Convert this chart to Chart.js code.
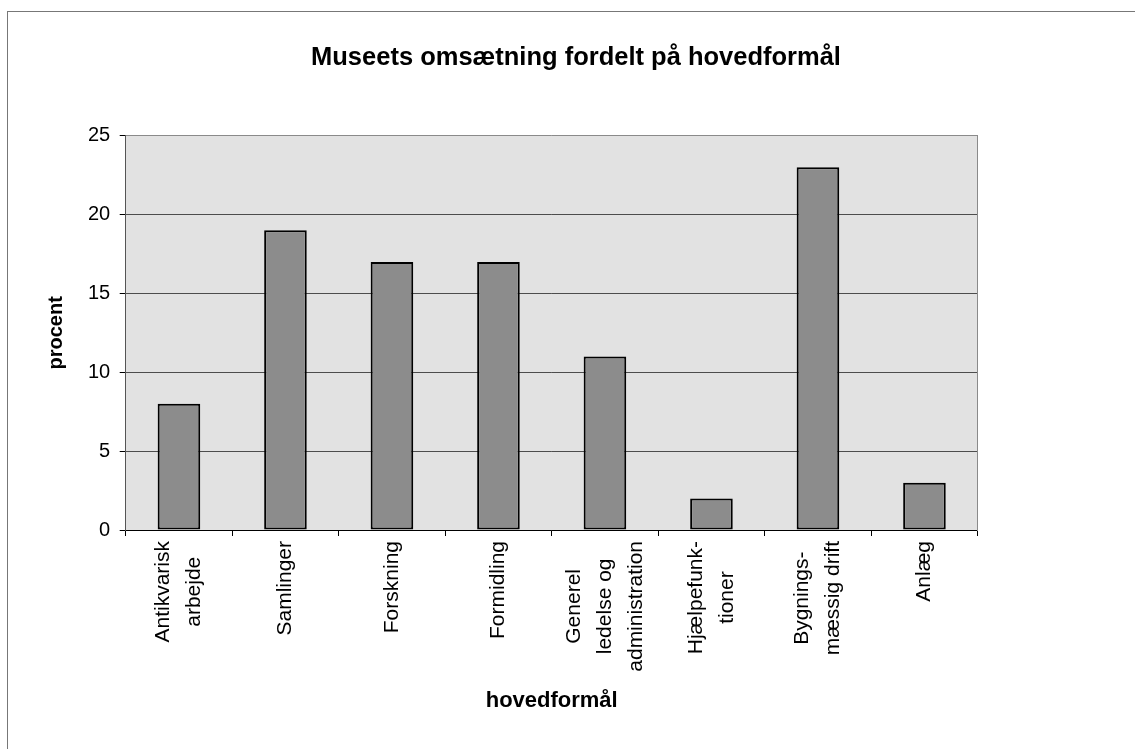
<!DOCTYPE html>
<html>
<head>
<meta charset="utf-8">
<script src="https://cdn.jsdelivr.net/npm/chart.js@4.4.0/dist/chart.umd.min.js"></script>
<style>
html,body{margin:0;padding:0;background:#fff;overflow:hidden;}
#wrap{position:relative;width:1135px;height:749px;}
canvas{position:absolute;left:0;top:0;}
#frame{position:absolute;left:7px;top:11px;width:1140px;height:760px;border-left:1px solid #777;border-top:1px solid #777;pointer-events:none;}
</style>
</head>
<body>
<div id="wrap"><canvas id="c" width="1135" height="749"></canvas><div id="frame"></div></div>
<script>
const chartTitle = 'Museets omsætning fordelt på hovedformål';
const xAxisTitle = 'hovedformål';
const yAxisTitle = 'procent';
const categories = [
  ['Antikvarisk', 'arbejde'],
  'Samlinger',
  'Forskning',
  'Formidling',
  ['Generel', 'ledelse og', 'administration'],
  ['Hjælpefunk-', 'tioner'],
  ['Bygnings-', 'mæssig drift'],
  'Anlæg'
];
const percentValues = [8, 19, 17, 17, 11, 2, 23, 3];
const yTicks = [0, 5, 10, 15, 20, 25];

const FAM = '"Liberation Sans", Arial, sans-serif';

const plotBg = {
  id: 'plotBg',
  beforeDraw(chart) {
    const { ctx, chartArea: a } = chart;
    ctx.save();
    ctx.fillStyle = '#e2e2e2';
    ctx.fillRect(a.left, a.top, a.right - a.left, a.bottom - a.top);
    ctx.restore();
  }
};

const xLabels = {
  id: 'xLabels',
  afterDraw(chart) {
    const xs = chart.scales.x, ctx = chart.ctx;
    const lh = 31;
    ctx.save();
    ctx.font = '21px ' + FAM;
    ctx.fillStyle = '#000';
    ctx.textAlign = 'center';
    ctx.textBaseline = 'middle';
    xs.ticks.forEach((t, i) => {
      const lab = categories[i];
      const lines = Array.isArray(lab) ? lab : [lab];
      const maxW = Math.max(...lines.map(l => ctx.measureText(l).width));
      const px = xs.getPixelForTick(i);
      ctx.save();
      ctx.translate(px, xs.top + 11);
      ctx.rotate(-Math.PI / 2);
      lines.forEach((l, j) => ctx.fillText(l, -maxW / 2, (j - (lines.length - 1) / 2) * lh));
      ctx.restore();
    });
    ctx.restore();
  }
};

new Chart(document.getElementById('c'), {
  type: 'bar',
  data: {
    labels: categories,
    datasets: [{
      label: yAxisTitle,
      data: percentValues,
      backgroundColor: '#8c8c8c',
      borderColor: '#000',
      borderWidth: 2,
      borderSkipped: false,
      categoryPercentage: 1,
      barPercentage: 0.4
    }]
  },
  options: {
    responsive: false,
    animation: false,
    devicePixelRatio: 1,
    layout: { padding: { left: 27, right: 10, top: 12, bottom: 12 } },
    plugins: {
      legend: { display: false },
      tooltip: { enabled: false },
      title: {
        display: true,
        text: chartTitle,
        color: '#000',
        font: { family: FAM, size: 25.5, weight: 'bold', lineHeight: 1.2 },
        padding: { top: 31, bottom: 62.1 }
      }
    },
    scales: {
      x: {
        grid: { offset: true, drawOnChartArea: false, tickLength: 6, tickColor: '#000', color: '#000' },
        border: { color: '#000', width: 1 },
        ticks: { color: 'rgba(0,0,0,0)', maxRotation: 90, minRotation: 90, autoSkip: false, font: { family: FAM, size: 21 } },
        title: {
          display: true, text: xAxisTitle, color: '#000',
          font: { family: FAM, size: 22, weight: 'bold', lineHeight: 1.2 },
          padding: { top: 0, bottom: 22.8 }
        },
        afterFit(s) { s.height = 207; }
      },
      y: {
        min: 0, max: 25,
        afterBuildTicks(s) { s.ticks = yTicks.map(v => ({ value: v })); },
        ticks: { color: '#000', padding: 9.5, font: { family: FAM, size: 20 } },
        grid: {
          color: c => (c.tick && c.tick.value === 25) ? '#8a8a8a' : '#4d4d4d',
          tickLength: 6, tickColor: '#000'
        },
        border: { color: '#555' },
        title: {
          display: true, text: yAxisTitle, color: '#000',
          font: { family: FAM, size: 20, weight: 'bold', lineHeight: 1.2 },
          padding: { top: 17, bottom: 0 }
        },
        afterFit(s) { s.width = 98.7; }
      },
      y2: {
        position: 'right',
        display: true,
        grid: { display: false },
        ticks: { display: false },
        border: { display: true, color: '#8a8a8a' },
        afterFit(s) { s.width = 147.3; }
      }
    }
  },
  plugins: [plotBg, xLabels]
});
</script>
</body>
</html>
